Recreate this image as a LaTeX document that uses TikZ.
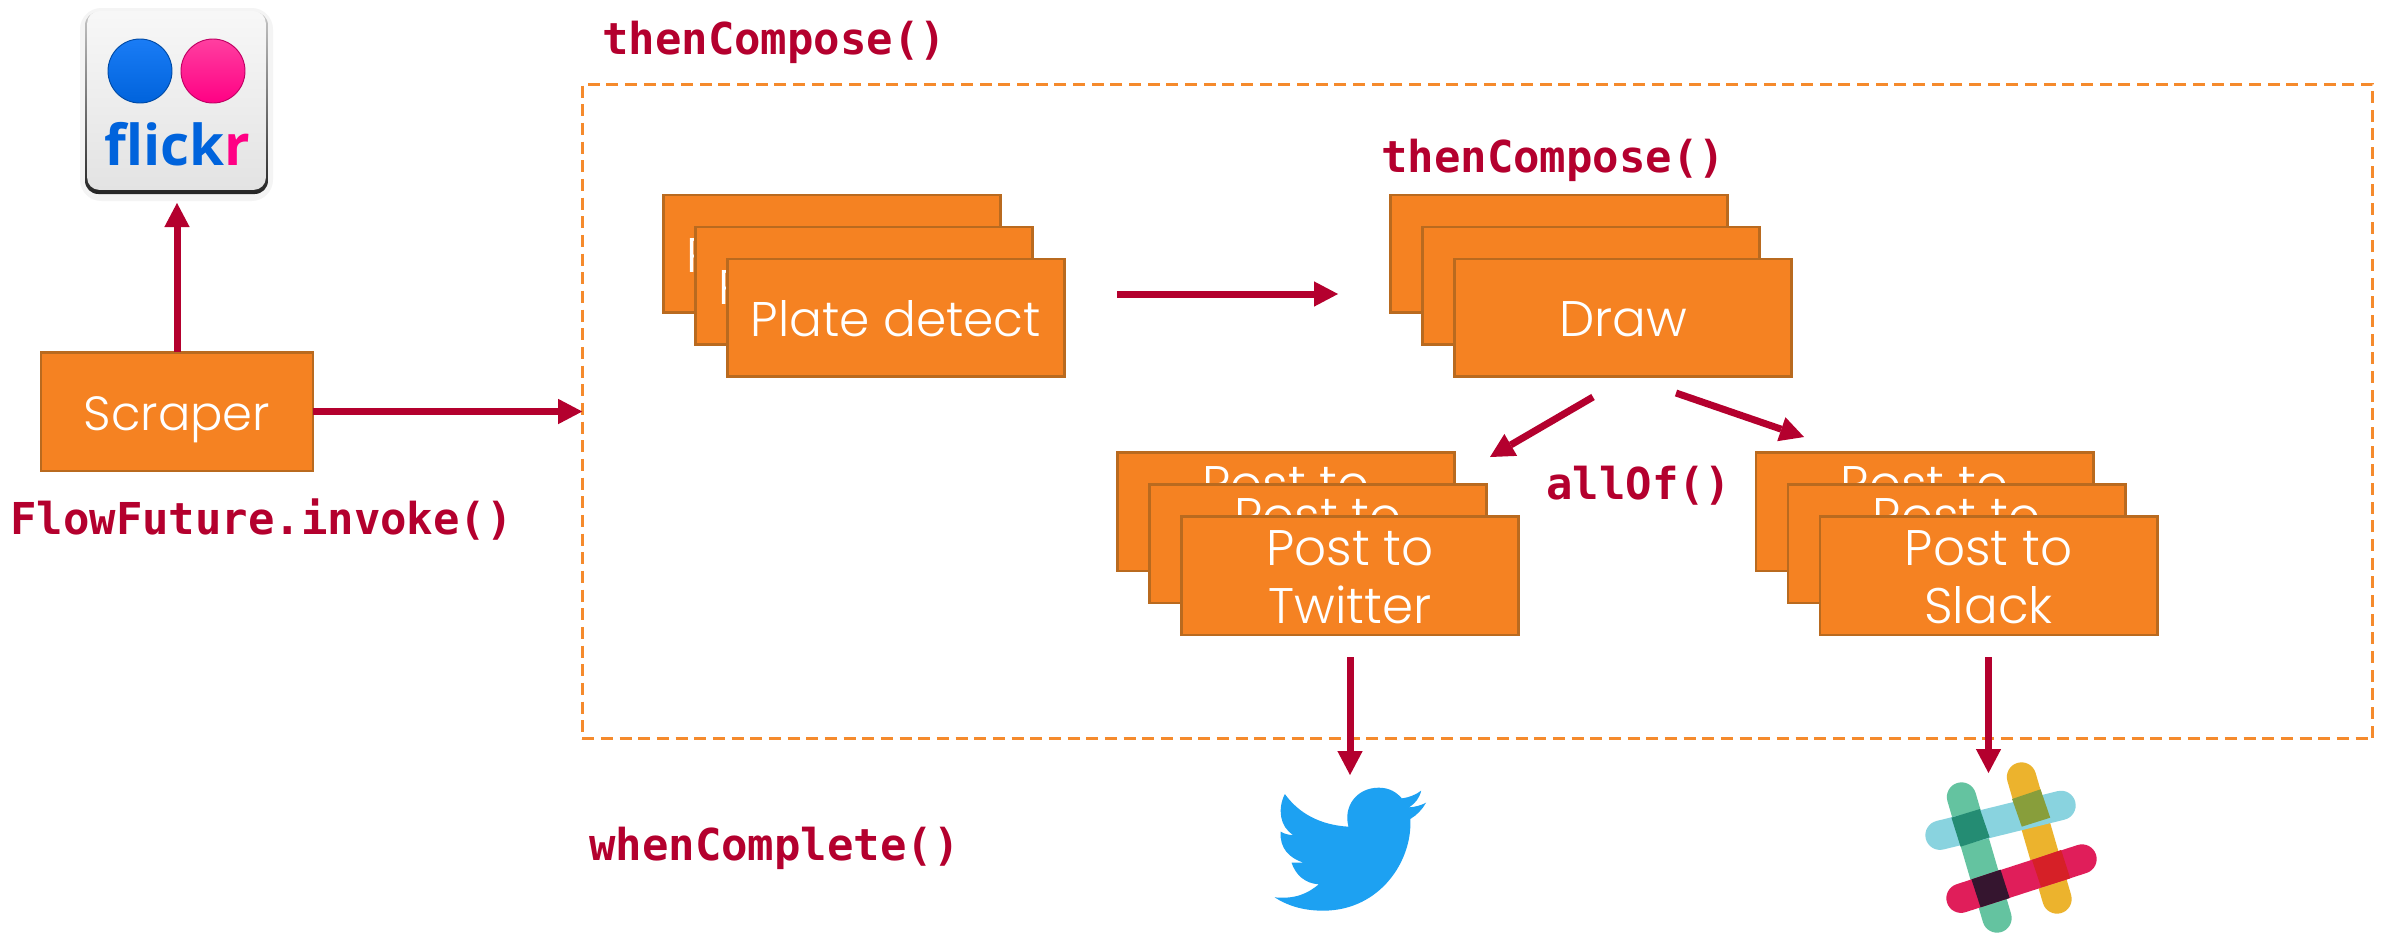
\documentclass[tikz,border=0pt]{standalone}
\usepackage{fontspec}
\usetikzlibrary{arrows.meta,shapes.geometric}
\newfontfamily\lightf{Poppins Light}
\newfontfamily\codef[BoldFont={DejaVu Sans Mono Bold}]{DejaVu Sans Mono}
\newfontfamily\logof{Open Sans}
\definecolor{boxor}{HTML}{F58222}
\definecolor{boxedge}{HTML}{B96A1F}
\definecolor{arrowc}{HTML}{B4002E}
\definecolor{dashor}{HTML}{F58A2C}
\definecolor{flblue}{HTML}{0063DC}
\definecolor{flbluetop}{HTML}{1A7CF5}
\definecolor{flpink}{HTML}{FF0084}
\definecolor{flpinktop}{HTML}{FF3FA0}
\definecolor{twblue}{HTML}{1DA1F2}
\definecolor{slgreen}{HTML}{64C3A0}
\definecolor{slblue}{HTML}{89D3DF}
\definecolor{slyellow}{HTML}{ECB32D}
\definecolor{slred}{HTML}{E01E5A}
\definecolor{ovgb}{HTML}{248C73}
\definecolor{ovyb}{HTML}{889E3B}
\definecolor{ovgr}{HTML}{35152F}
\definecolor{ovyr}{HTML}{D62027}
\tikzset{
  taskbox/.style={draw=boxedge,fill=boxor,line width=2pt,text=white,align=center,inner sep=0pt,outer sep=0pt,
    font=\lightf\fontsize{37.5}{43.5}\selectfont,minimum width=253pt,minimum height=88pt},
  onebox/.style={taskbox,text height=33pt,text depth=5pt},
  platebox/.style={onebox,font=\lightf\fontsize{36.5}{43.5}\selectfont},
  postbox/.style={taskbox,minimum height=89pt},
  arr/.style={draw=arrowc,line width=5.25pt,-{Triangle[length=18pt,width=19pt,line width=0pt]}},
  code/.style={text=arrowc,anchor=base west,inner sep=0pt,font=\codef\bfseries\fontsize{32.95}{36}\selectfont},
  slackbar/.style={line width=22pt,line cap=round},
}
\newcommand{\firstline}{\rule{0pt}{29pt}}
\begin{document}
\begin{tikzpicture}[x=0.75pt,y=-0.75pt]
\path[use as bounding box,fill=white] (0,0) rectangle (2390,933);
% flickr icon
\fill[gray!9,rounded corners=16pt] (80,8) rectangle (273,201);
\shade[top color=gray!45,bottom color=black!85,rounded corners=10pt] (85,12) rectangle (268,194);
\node[rounded corners=9pt,top color=black!3,bottom color=black!11,minimum width=134pt,minimum height=134pt,inner sep=0pt,outer sep=0pt] (flickr) at (176.5,100.5) {};
\shade[top color=flbluetop,bottom color=flblue,draw=flblue!75!black,line width=.7pt] (140,71) circle (32);
\shade[top color=flpinktop,bottom color=flpink,draw=flpink!75!black,line width=.7pt] (213,71) circle (32);
\node[anchor=base,inner sep=0pt,font=\logof\bfseries\fontsize{42.3}{43}\selectfont] (flickrtext) at (177,165) {\textcolor{flblue}{flick}\textcolor{flpink}{r}};
% dashed frame
\node[draw=dashor,line width=2.25pt,dash pattern=on 9pt off 5pt,minimum width=1343pt,minimum height=491pt,inner sep=0pt,outer sep=0pt] (frame) at (1477.5,411.5) {};
% scraper
\node[onebox,minimum width=204pt,minimum height=89pt,font=\lightf\fontsize{36}{43.5}\selectfont] (scraper) at (177,411.5) {Scraper};
% plate detect
\node[platebox] (plateA) at (832,253.5) {Plate detect};
\node[platebox] (plateB) at (864,285.5) {Plate detect};
\node[platebox] (plateC) at (896,317.5) {Plate detect};
% draw
\node[onebox] (drawA) at (1559,253.5) {Draw};
\node[onebox] (drawB) at (1591,285.5) {Draw};
\node[onebox] (drawC) at (1623,317.5) {Draw};
% twitter posts
\node[postbox] (twA) at (1286,511.5) {\firstline Post to\\Twitter};
\node[postbox] (twB) at (1318,543.5) {\firstline Post to\\Twitter};
\node[postbox] (twC) at (1350,575.5) {\firstline Post to\\Twitter};
% slack posts
\node[postbox] (slA) at (1924.5,511.5) {\firstline Post to\\Slack};
\node[postbox] (slB) at (1956.5,543.5) {\firstline Post to\\Slack};
\node[postbox] (slC) at (1988.5,575.5) {\firstline Post to\\Slack};
% labels
\node[code] (lblA) at (602,54.5) {thenCompose()};
\node[code] (lblB) at (1381,172.5) {thenCompose()};
\node[code] (lblC) at (1546,499) {allOf()};
\node[code] (lblD) at (10,534) {FlowFuture.invoke()};
\node[code] (lblE) at (589,860.5) {whenComplete()};
% twitter bird
\begin{scope}[shift={(1220,720)},x=0.4545pt,y=-0.25pt]
\fill[twblue] (90,532) .. controls (125,538) and (145,520) .. (163,493)
 .. controls (140,490) and (125,465) .. (118,428) -- (138,428)
 .. controls (115,415) and (98,385) .. (100,335)
 .. controls (106,341) and (112,345) .. (121,345)
 .. controls (98,320) and (95,265) .. (107,222)
 .. controls (130,280) and (165,315) .. (212,320)
 .. controls (203,260) and (225,203) .. (262,203)
 .. controls (280,203) and (292,218) .. (300,235)
 .. controls (313,232) and (323,224) .. (332,212)
 .. controls (329,235) and (322,250) .. (312,262)
 .. controls (322,261) and (332,256) .. (340,248)
 .. controls (334,268) and (325,285) .. (314,297)
 .. controls (318,420) and (265,572) .. (170,572)
 .. controls (135,572) and (110,555) .. (90,532) -- cycle;
\end{scope}
% slack logo
\draw[slgreen,slackbar] (1961.5,797) -- (1997,918);
\draw[slyellow,slackbar] (2021.5,777) -- (2057,899);
\draw[slblue,slackbar] (1940,835.2) -- (2061,805.4);
\draw[slred,slackbar] (1961,898.2) -- (2082,859);
\begin{scope}[shift={(1220,720)},x=0.4545pt,y=-0.25pt]
\fill[ovgb] (1207,293) -- (1254,267) -- (1270,352) -- (1222,380) -- cycle;
\fill[ovyb] (1307,237) -- (1354,208) -- (1370,293) -- (1323,320) -- cycle;
\fill[ovgr] (1240,478) -- (1288,449) -- (1303,534) -- (1255,562) -- cycle;
\fill[ovyr] (1340,420) -- (1388,390) -- (1403,475) -- (1355,502) -- cycle;
\end{scope}
% connector ends
\coordinate (flickrin) at (177,203);
\coordinate (plateout) at (1117,294);
\coordinate (drawin) at (1338,294);
\coordinate (fanL) at (1593,397);
\coordinate (fanLend) at (1490,457);
\coordinate (fanR) at (1676,393);
\coordinate (fanRend) at (1804,437);
\coordinate (twout) at (1350,657);
\coordinate (birdin) at (1350,775);
\coordinate (slout) at (1988.5,657);
\coordinate (slackin) at (1988.5,773);
% connectors
\draw[arr] (scraper.north) -- (flickrin);
\draw[arr] (scraper.east) -- (frame.west);
\draw[arr] (plateout) -- (drawin);
\draw[arr] (fanL) -- (fanLend);
\draw[arr] (fanR) -- (fanRend);
\draw[arr] (twout) -- (birdin);
\draw[arr] (slout) -- (slackin);
\end{tikzpicture}
\end{document}
